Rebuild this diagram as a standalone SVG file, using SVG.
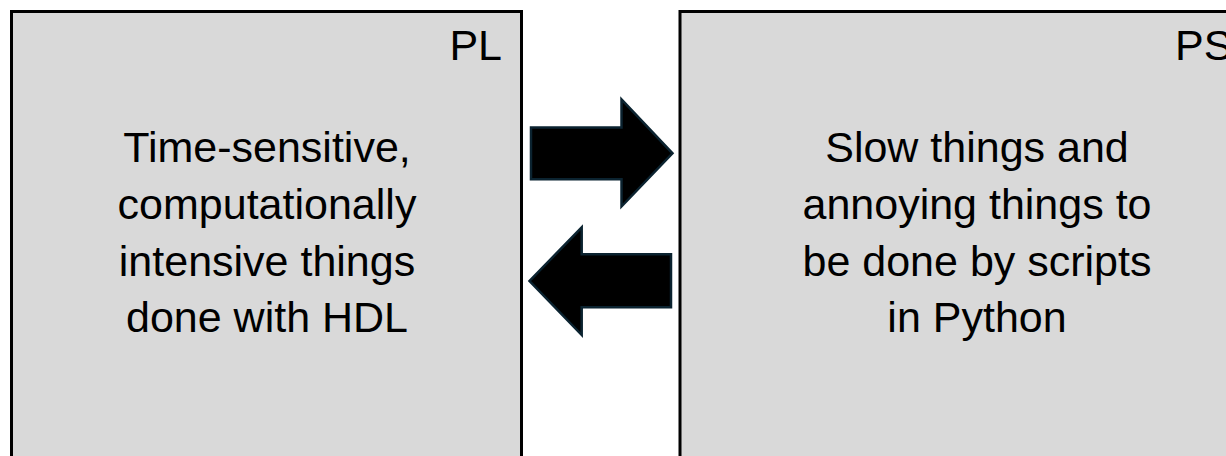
<svg xmlns="http://www.w3.org/2000/svg" width="1226" height="456" viewBox="0 0 1226 456">
<style>
.box{fill:#d9d9d9;stroke:#000;stroke-width:3}
.t{font-family:"Liberation Sans",Arial,sans-serif;font-size:43px;fill:#000}
.c{text-anchor:middle}
.arrow{fill:#000;stroke:#0b2330;stroke-width:2.5;stroke-linejoin:miter}
</style>
<rect width="1226" height="456" fill="#fff"/>
<g id="PL">
<rect class="box" x="11.5" y="11.5" width="510" height="460"/>
<text class="t" x="502" y="60" text-anchor="end">PL</text>
<text class="t c" x="267" y="162">Time-sensitive,</text>
<text class="t c" x="267" y="219">computationally</text>
<text class="t c" x="267" y="276">intensive things</text>
<text class="t c" x="267" y="332">done with HDL</text>
</g>
<g id="PS">
<rect class="box" x="680" y="11.5" width="580" height="460"/>
<text class="t" x="1175" y="60">PS</text>
<text class="t c" x="977" y="162">Slow things and</text>
<text class="t c" x="977" y="219">annoying things to</text>
<text class="t c" x="977" y="276">be done by scripts</text>
<text class="t c" x="977" y="332">in Python</text>
</g>
<g id="connectors">
<polygon class="arrow" points="531,127.5 621.5,127.5 621.5,99.5 672.5,153.3 621.5,206.5 621.5,179.3 531,179.3"/>
<polygon class="arrow" points="671,254.3 581.7,254.3 581.7,227.3 529.5,281 581.7,335 581.7,307.3 671,307.3"/>
</g>
</svg>
